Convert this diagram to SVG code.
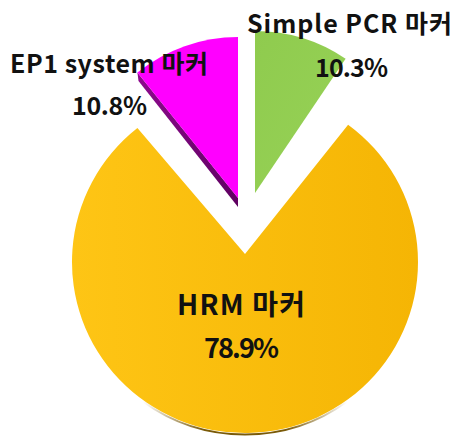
<svg xmlns="http://www.w3.org/2000/svg" width="456" height="436" viewBox="0 0 456 436">
  <defs>
    <linearGradient id="gYellow" x1="0" y1="0" x2="1" y2="0">
      <stop offset="0" stop-color="#FEC515"/>
      <stop offset="1" stop-color="#F5B504"/>
    </linearGradient>
    <linearGradient id="gGreen" x1="0" y1="0" x2="1" y2="1">
      <stop offset="0" stop-color="#8FCB4E"/>
      <stop offset="1" stop-color="#97D257"/>
    </linearGradient>
    <linearGradient id="gSide" x1="0" y1="0" x2="1" y2="1">
      <stop offset="0" stop-color="#8E0A8E"/>
      <stop offset="1" stop-color="#5E0060"/>
    </linearGradient>
    <linearGradient id="gEdge" x1="0" y1="0" x2="1" y2="0">
      <stop offset="0" stop-color="#7A5A08" stop-opacity="0"/>
      <stop offset="0.3" stop-color="#7A5A08" stop-opacity="1"/>
      <stop offset="0.7" stop-color="#7A5A08" stop-opacity="1"/>
      <stop offset="1" stop-color="#7A5A08" stop-opacity="0"/>
    </linearGradient>
    <style>
      .lbl { font-family: "Noto Sans CJK KR", "Noto Sans", sans-serif; font-weight: bold; fill: #111111; }
    </style>
  </defs>
  <rect width="456" height="436" fill="#FFFFFF"/>

  <g id="slice-hrm">
    <path d="M142.8,400 A173,171 0 0,0 347.2,400" fill="none" stroke="url(#gEdge)" stroke-width="2" transform="translate(0,1.5)"/>
    <path d="M245,254 L137.4,128.1 A173,171 0 1,0 348.1,124.7 Z" fill="url(#gYellow)"/>
  </g>

  <g id="slice-ep1">
    <polygon points="137.4,72.4 238,198 238,207 138.5,81" fill="url(#gSide)"/>
    <path d="M238,198 L238,37 A161,161 0 0,0 137.4,72.4 Z" fill="#FF00FF"/>
  </g>

  <g id="slice-simple">
    <path d="M255,193 L255,31 A162,162 0 0,1 345.6,58.7 Z" fill="url(#gGreen)"/>
  </g>

  <g id="label-simple">
    <text class="lbl" x="247" y="33" font-size="25" textLength="205" lengthAdjust="spacing">Simple PCR 마커</text>
    <text class="lbl" x="315" y="77" font-size="25" textLength="73" lengthAdjust="spacing">10.3%</text>
  </g>
  <g id="label-ep1">
    <text class="lbl" x="10" y="73" font-size="25" textLength="198" lengthAdjust="spacing">EP1 system 마커</text>
    <text class="lbl" x="72" y="115" font-size="25" textLength="75" lengthAdjust="spacing">10.8%</text>
  </g>
  <g id="label-hrm">
    <text class="lbl" x="177" y="315" font-size="28" textLength="128" lengthAdjust="spacing">HRM 마커</text>
    <text class="lbl" x="204" y="358" font-size="27" textLength="75" lengthAdjust="spacing">78.9%</text>
  </g>
</svg>
